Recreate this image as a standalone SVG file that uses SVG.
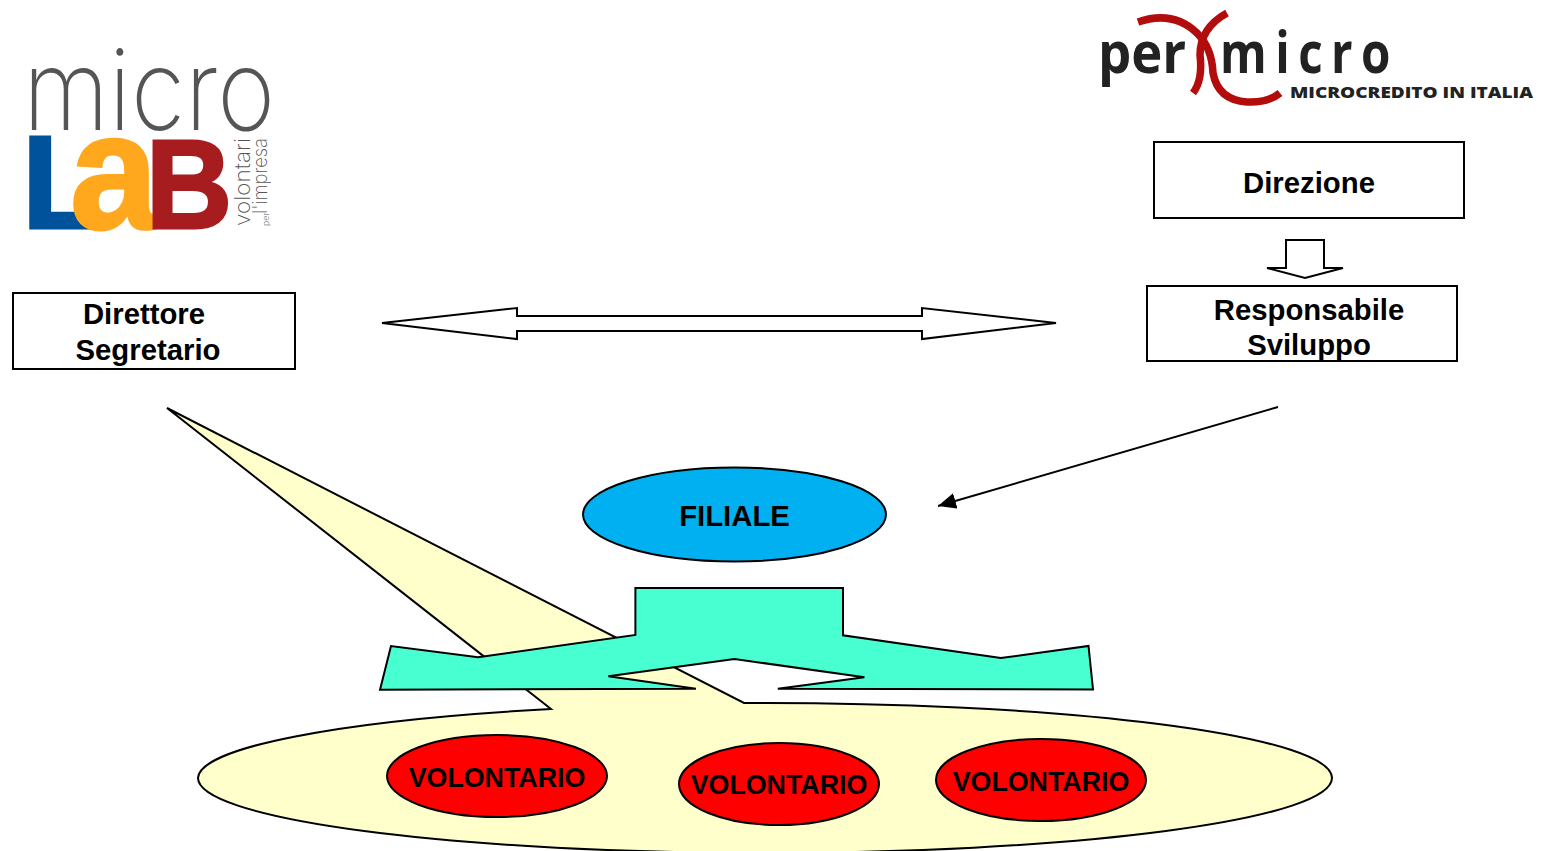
<svg xmlns="http://www.w3.org/2000/svg" width="1545" height="851" viewBox="0 0 1545 851">
<style>
.s{stroke:#000;stroke-width:2;stroke-linejoin:miter}
.t{font-family:"Liberation Sans",Arial,sans-serif;font-weight:700;font-size:29.3px;fill:#000;text-anchor:middle}
.v{font-size:26.800px}
.b{fill:#fff}
.r{fill:#f00}
.lg{font-family:"Liberation Sans",Arial,sans-serif;font-weight:700}
.th{font-family:Inter,"Liberation Sans",sans-serif;font-weight:200;fill:#555}
.pm{font-family:"Open Sans",sans-serif;font-weight:700;fill:#222}
</style>
<defs>
<marker id="ah" markerUnits="userSpaceOnUse" markerWidth="20" markerHeight="16" refX="18" refY="8" orient="auto"><path d="M0 0L18 8L0 16z" fill="#000"/></marker>
</defs>
<rect width="1545" height="851" fill="#fff"/>
<g id="callout"><path class="s" fill="#ffffcc" d="M551 709L167 408L744 703A567 75 0 0 1 1332 778A567 75 0 0 1 198 778A567 75 0 0 1 551 709Z"/></g>
<g id="logo-microlab">
<text class="th" x="23" y="130" font-size="112" textLength="252" lengthAdjust="spacingAndGlyphs">micro</text>
<text class="lg" x="22" y="228" font-size="132" fill="#00529b" stroke="#00529b" stroke-width="3" textLength="80" lengthAdjust="spacingAndGlyphs">L</text>
<text class="lg" x="70" y="228" font-size="166" fill="#ffa81e" stroke="#ffa81e" stroke-width="3" textLength="88" lengthAdjust="spacingAndGlyphs">a</text>
<text class="lg" x="146" y="228" font-size="126" fill="#a61c1f" stroke="#a61c1f" stroke-width="3" textLength="86" lengthAdjust="spacingAndGlyphs">B</text>
<text class="th" transform="translate(250 226) rotate(-90)" font-size="22" textLength="88" lengthAdjust="spacingAndGlyphs">volontari</text>
<text class="th" transform="translate(269 226) rotate(-90)" font-size="9">per</text>
<text class="th" transform="translate(267 214) rotate(-90)" font-size="20" textLength="76" lengthAdjust="spacingAndGlyphs">l'impresa</text>
</g>
<g id="logo-permicro">
<path d="M1138 22Q1173 10 1197 33Q1212 48 1213 73Q1218 100 1247 102Q1268 103 1280 93" fill="none" stroke="#b30c0c" stroke-width="7.500"/>
<path d="M1227 13Q1200 28 1200 55Q1203 80 1193 93" fill="none" stroke="#b30c0c" stroke-width="7.500"/>
<text class="pm" transform="translate(1098 73) scale(.9 1)" font-size="58" textLength="98" lengthAdjust="spacingAndGlyphs">per</text>
<text class="pm" transform="translate(1220 73) scale(.82 1)" font-size="58" textLength="208" lengthAdjust="spacing">micro</text>
<text x="1290" y="98" font-family="'Open Sans',sans-serif" font-weight="800" font-size="16" fill="#222" textLength="243" lengthAdjust="spacingAndGlyphs">MICROCREDITO IN ITALIA</text>
</g>
<g id="direzione"><rect class="s b" x="1154" y="142" width="310" height="76"/><text class="t" x="1309" y="193">Direzione</text></g>
<g id="responsabile"><rect class="s b" x="1147" y="286" width="310" height="75"/><text class="t" x="1309" y="320">Responsabile</text><text class="t" x="1309" y="355">Sviluppo</text></g>
<g id="direttore"><rect class="s b" x="13" y="293" width="282" height="76"/><text class="t" x="144" y="324">Direttore</text><text class="t" x="148" y="360">Segretario</text></g>
<g id="connectors">
<path class="s b" d="M382 323L517 308V316H922V308L1056 323L922 339V331H517V339Z"/>
<path class="s b" d="M1286 240H1324V268H1343L1305 278L1267 268H1286Z"/>
<line x1="1278" y1="407" x2="938" y2="506" stroke="#000" stroke-width="2" marker-end="url(#ah)"/>
</g>
<g id="filiale"><ellipse class="s" fill="#00b0f0" cx="734.500" cy="514.500" rx="151.500" ry="47"/><text class="t" x="734.500" y="526">FILIALE</text></g>
<g id="bracket"><path class="s" fill="#48ffd2" d="M635.400 588H843V635.300L1000.800 658L1088.500 646L1093 689.500L777.800 688.700L864.400 677.300L734.500 659L608.400 676.300L695.900 688.700L380 689.700L391 646L478 657.300L635.400 635Z"/></g>
<g id="volontario-1"><ellipse class="s r" cx="497" cy="776" rx="110" ry="41"/><text class="t v" x="497" y="787">VOLONTARIO</text></g>
<g id="volontario-2"><ellipse class="s r" cx="779" cy="784" rx="100" ry="41"/><text class="t v" x="779" y="794">VOLONTARIO</text></g>
<g id="volontario-3"><ellipse class="s r" cx="1041" cy="780" rx="105" ry="41"/><text class="t v" x="1041" y="791">VOLONTARIO</text></g>
</svg>
